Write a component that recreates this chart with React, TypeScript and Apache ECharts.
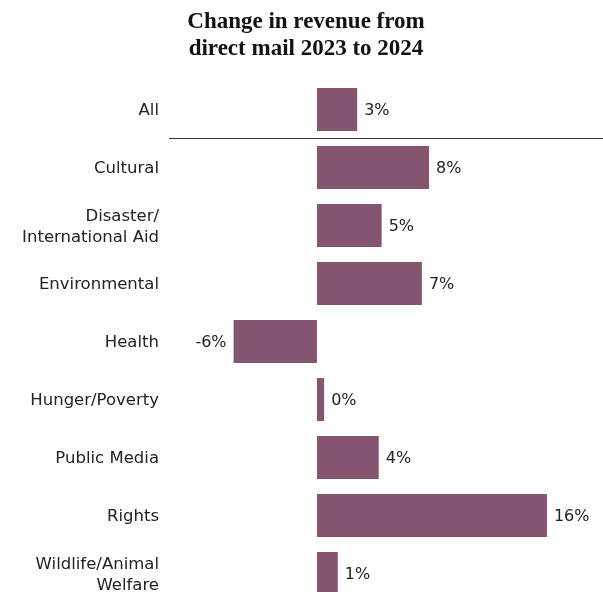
import React, { useEffect, useRef } from "react";
import * as echarts from "echarts";

const categories = [
  "All",
  "Cultural",
  "Disaster/\nInternational Aid",
  "Environmental",
  "Health",
  "Hunger/Poverty",
  "Public Media",
  "Rights",
  "Wildlife/Animal\nWelfare",
];
const values = [2.8, 7.8, 4.5, 7.3, -5.8, 0.5, 4.3, 16.0, 1.45];
const labels = ["3%", "8%", "5%", "7%", "-6%", "0%", "4%", "16%", "1%"];

export default function App() {
  const ref = useRef<HTMLDivElement>(null);
  useEffect(() => {
    const chart = echarts.init(ref.current!, null, { renderer: "svg" });
    chart.setOption({
      animation: false,
      title: {
        text: "Change in revenue from\ndirect mail 2023 to 2024",
        left: 301,
        textAlign: "center",
        top: 2,
        textStyle: {
          fontFamily: "Liberation Serif",
          fontWeight: "bold",
          fontSize: 23,
          lineHeight: 27,
          color: "#111",
        },
      },
      grid: { left: 166, right: 0, top: 80.5, bottom: 7.5, containLabel: false },
      xAxis: {
        type: "value",
        min: -10.5,
        max: 19.9,
        show: false,
      },
      yAxis: {
        type: "category",
        data: categories,
        inverse: true,
        axisLine: { show: false },
        axisTick: { show: false },
        splitLine: { show: false },
        axisLabel: {
          margin: 7,
          fontFamily: "DejaVu Sans",
          fontSize: 16.5,
          lineHeight: 21,
          color: "#222",
          align: "right",
        },
      },
      graphic: [
        {
          type: "line",
          shape: { x1: 169, y1: 138.5, x2: 603, y2: 138.5 },
          style: { stroke: "#333", lineWidth: 1 },
        },
      ],
      series: [
        {
          type: "bar",
          data: values.map((v, i) => ({
            value: v,
            label: {
              position: v < 0 ? "left" : "right",
              formatter: labels[i],
            },
          })),
          barCategoryGap: "26%",
          itemStyle: { color: "#85546E" },
          label: {
            show: true,
            distance: 7,
            fontFamily: "DejaVu Sans",
            fontSize: 16,
            color: "#222",
          },
        },
      ],
    });
    return () => chart.dispose();
  }, []);
  return (
    <div
      ref={ref}
      style={{ position: "fixed", left: 0, top: 0, width: 603, height: 610 }}
    />
  );
}
